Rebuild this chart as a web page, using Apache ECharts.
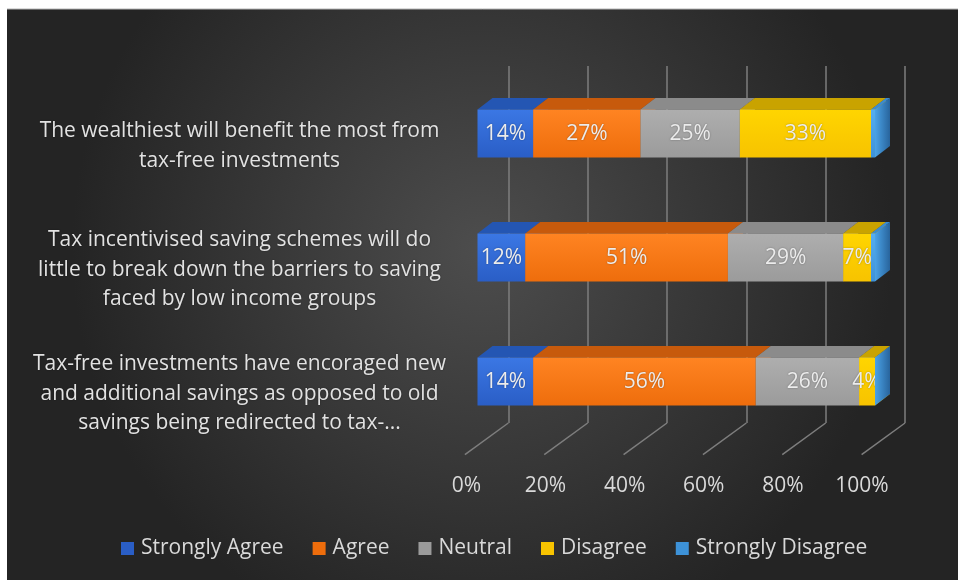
<!DOCTYPE html>
<html>
<head>
<meta charset="utf-8">
<script src="https://cdn.jsdelivr.net/npm/echarts@6/dist/echarts.min.js"></script>
<style>
  html, body { margin: 0; padding: 0; background: #ffffff; }
  #chart { width: 958px; height: 580px; }
</style>
</head>
<body>
<div id="chart"></div>
<script>
// ---- data ----
const categories = [
  'The wealthiest will benefit the most from\ntax-free investments',
  'Tax incentivised saving schemes will do\nlittle to break down the barriers to saving\nfaced by low income groups',
  'Tax-free investments have encoraged new\nand additional savings as opposed to old\nsavings being redirected to tax-...'
];
const seriesNames = ['Strongly Agree', 'Agree', 'Neutral', 'Disagree', 'Strongly Disagree'];
const stronglyAgree    = [14, 12, 14];
const agree            = [27, 51, 56];
const neutral          = [25, 29, 26];
const disagree         = [33, 7, 4];
const stronglyDisagree = [1, 1, 0];
const axisTicks = [0, 20, 40, 60, 80, 100];

// ---- styling ----
const FONT = '"Open Sans", "Noto Sans", sans-serif';
const BAR_H = 48;          // height of a bar's front face
const DX = 15, DY = -11.5; // depth of a box (oblique projection)
const FLOOR_DX = -43.4, FLOOR_DY = 31.7; // floor depth, back wall to front edge

const faces = [
  { front: ['#3b77e4', '#2a5ec6'], top: '#2456b3', side: ['#2456b3', '#1d4894'] },
  { front: ['#ff8422', '#ee6d0c'], top: '#c75a0c', side: ['#c75a0c', '#a94b08'] },
  { front: ['#aeaeae', '#9b9b9b'], top: '#8b8b8b', side: ['#8b8b8b', '#777777'] },
  { front: ['#ffd500', '#f7c300'], top: '#c9a300', side: ['#d4ad00', '#b38f00'] },
  { front: ['#55aef0', '#3d92d8'], top: '#3a8bd2', side: ['#4aa2e6', '#28649c'] }
];
const labelled = [true, true, true, true, false];

function vGrad(c) {
  return new echarts.graphic.LinearGradient(0, 0, 0, 1, [
    { offset: 0, color: c[0] }, { offset: 1, color: c[1] }
  ]);
}
function hGrad(c) {
  return new echarts.graphic.LinearGradient(0, 0, 1, 0, [
    { offset: 0, color: c[0] }, { offset: 1, color: c[1] }
  ]);
}

// running start of each segment along its row
const values = [stronglyAgree, agree, neutral, disagree, stronglyDisagree];
const starts = values.map((_, s) => categories.map((__, c) => {
  let acc = 0;
  for (let k = 0; k < s; k++) acc += values[k][c];
  return acc;
}));

function boxRenderer(si) {
  const f = faces[si];
  return function (params, api) {
    const val = api.value(0), cat = api.value(1), start = api.value(2);
    const p0 = api.coord([start, cat]);
    const p1 = api.coord([start + val, cat]);
    const x0 = p0[0], x1 = p1[0];
    const yt = p0[1] - BAR_H / 2, yb = p0[1] + BAR_H / 2;
    const children = [
      { type: 'polygon',
        shape: { points: [[x1, yt], [x1 + DX, yt + DY], [x1 + DX, yb + DY], [x1, yb]] },
        style: { fill: hGrad(f.side) } },
      { type: 'polygon',
        shape: { points: [[x0, yt], [x1, yt], [x1 + DX, yt + DY], [x0 + DX, yt + DY]] },
        style: { fill: f.top } },
      { type: 'rect',
        shape: { x: x0, y: yt, width: x1 - x0, height: BAR_H },
        style: { fill: vGrad(f.front) } }
    ];
    if (labelled[si] && val > 0) {
      children.push({
        type: 'text', x: (x0 + x1) / 2, y: p0[1] + 1,
        style: {
          text: val + '%', fill: '#ececec', fontSize: 21, fontFamily: FONT,
          align: 'center', verticalAlign: 'middle',
          textShadowColor: 'rgba(0,0,0,0.35)', textShadowBlur: 2
        }
      });
    }
    return { type: 'group', children };
  };
}

const barSeries = seriesNames.map((name, si) => ({
  name,
  type: 'custom',
  xAxisIndex: 2,
  yAxisIndex: 2,
  renderItem: boxRenderer(si),
  itemStyle: { color: faces[si].front[1] },
  encode: { x: 0, y: 1 },
  data: values[si].map((v, c) => [v, c, starts[si][c]]),
  z: 5
}));

const floorSeries = {
  type: 'custom',
  xAxisIndex: 0,
  yAxisIndex: 0,
  silent: true,
  z: 1,
  renderItem: function (params, api) {
    const p = api.coord([api.value(0), 0]);
    return {
      type: 'line',
      shape: { x1: p[0], y1: p[1], x2: p[0] + FLOOR_DX, y2: p[1] + FLOOR_DY },
      style: { stroke: '#7e7e7e', lineWidth: 1.5 }
    };
  },
  data: axisTicks.map(v => [v, 0])
};

const chart = echarts.init(document.getElementById('chart'), null, { renderer: 'canvas' });
chart.setOption({
  backgroundColor: '#ffffff',
  animation: false,
  graphic: [
    {
      type: 'rect', z: -10, silent: true,
      shape: { x: 7, y: 9, width: 951, height: 571 },
      style: {
        fill: new echarts.graphic.RadialGradient(0.5, 0.42, 0.72, [
          { offset: 0, color: '#4d4d4d' },
          { offset: 1, color: '#242424' }
        ])
      }
    },
    {
      type: 'line', z: -9, silent: true,
      shape: { x1: 7, y1: 9, x2: 958, y2: 9 },
      style: { stroke: '#b4b4b4', lineWidth: 1 }
    }
  ],
  grid: [
    { left: 508.3, width: 396.7, top: 66, height: 357 },   // back wall
    { left: 466.4, width: 395.6, top: 440, height: 15 },   // front edge of the floor
    { left: 477.5, width: 397.5, top: 71.5, height: 372 }, // bar fronts
    { left: 477.5, width: 397.5, top: 84, height: 372 }    // category names, at floor depth
  ],
  xAxis: [
    {
      gridIndex: 0, type: 'value', min: 0, max: 100, interval: 20,
      axisLine: { show: false }, axisTick: { show: false }, axisLabel: { show: false },
      splitLine: { show: true, lineStyle: { color: '#7e7e7e', width: 1.5 } }
    },
    {
      gridIndex: 1, type: 'value', min: 0, max: 100, interval: 20,
      axisLine: { show: false }, axisTick: { show: false }, splitLine: { show: false },
      axisLabel: {
        formatter: '{value}%', color: '#d9d9d9', fontSize: 21, fontFamily: FONT, margin: 21
      }
    },
    { gridIndex: 2, type: 'value', min: 0, max: 100, show: false },
    { gridIndex: 3, type: 'value', min: 0, max: 100, show: false }
  ],
  yAxis: [
    { gridIndex: 0, type: 'value', min: 0, max: 1, show: false },
    { gridIndex: 1, type: 'value', min: 0, max: 1, show: false },
    {
      gridIndex: 2, type: 'category', inverse: true, data: categories,
      axisLine: { show: false }, axisTick: { show: false }, splitLine: { show: false },
      axisLabel: { show: false }
    },
    {
      gridIndex: 3, type: 'category', inverse: true, data: categories,
      axisLine: { show: false }, axisTick: { show: false }, splitLine: { show: false },
      axisLabel: {
        align: 'center', margin: 238,
        color: '#e2e2e2', fontSize: 21, lineHeight: 29.5, fontFamily: FONT,
        textShadowColor: 'rgba(0,0,0,0.4)', textShadowBlur: 2
      }
    }
  ],
  legend: {
    data: seriesNames,
    left: 121, top: 538, padding: 0,
    icon: 'rect', itemWidth: 13, itemHeight: 13, itemGap: 29,
    textStyle: { color: '#d9d9d9', fontSize: 21, fontFamily: FONT, padding: [0, 0, 0, 2] }
  },
  series: [floorSeries].concat(barSeries)
});
</script>
</body>
</html>
